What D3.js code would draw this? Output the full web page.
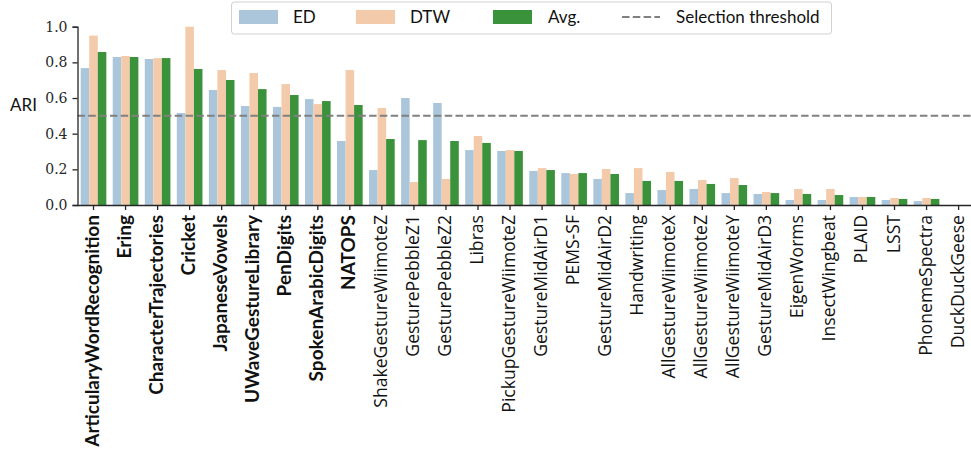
<!DOCTYPE html>
<html>
<head>
<meta charset="utf-8">
<script src="https://cdn.jsdelivr.net/npm/d3@7"></script>
<style>
  html, body { margin: 0; padding: 0; background: #fff; }
  svg { display: block; }
</style>
</head>
<body>
<svg id="chart" width="971" height="454"></svg>
<script>
const categories = ["ArticularyWordRecognition","Ering","CharacterTrajectories","Cricket","JapaneseVowels","UWaveGestureLibrary","PenDigits","SpokenArabicDigits","NATOPS","ShakeGestureWiimoteZ","GesturePebbleZ1","GesturePebbleZ2","Libras","PickupGestureWiimoteZ","GestureMidAirD1","PEMS-SF","GestureMidAirD2","Handwriting","AllGestureWiimoteX","AllGestureWiimoteZ","AllGestureWiimoteY","GestureMidAirD3","EigenWorms","InsectWingbeat","PLAID","LSST","PhonemeSpectra","DuckDuckGeese"];
const edValues  = [0.768,0.830,0.819,0.516,0.645,0.555,0.550,0.594,0.359,0.196,0.600,0.572,0.308,0.303,0.191,0.179,0.146,0.067,0.084,0.090,0.067,0.062,0.028,0.028,0.045,0.028,0.022,0.0];
const dtwValues = [0.950,0.836,0.824,1.000,0.757,0.740,0.678,0.566,0.757,0.544,0.129,0.146,0.387,0.308,0.207,0.174,0.202,0.207,0.185,0.140,0.151,0.073,0.090,0.090,0.045,0.039,0.039,0.0];
const avgValues = [0.858,0.830,0.824,0.763,0.701,0.650,0.617,0.583,0.561,0.370,0.364,0.359,0.348,0.303,0.196,0.179,0.174,0.135,0.135,0.118,0.112,0.067,0.062,0.056,0.045,0.034,0.034,0.0];
const seriesNames = ["ED","DTW","Avg."];
const threshold = 0.5;
const thresholdLabel = "Selection threshold";
const yTicks = [0.0,0.2,0.4,0.6,0.8,1.0];
const yLabel = "ARI";

const colors = ["#abc6da","#f3cbaa","#3a923a"];
const seriesValues = [edValues, dtwValues, avgValues];

const svg = d3.select("#chart");
const left = 77.5, bandW = 32.04;
const x = d3.scaleBand().domain(categories).range([left, left + bandW*categories.length]).padding(0);
const y = d3.scaleLinear().domain([0,1]).range([205, 26.7]);
const inner = d3.scaleBand().domain(seriesNames).range([0, x.bandwidth()*0.8]).padding(0);

// bars
const g = svg.append("g");
seriesNames.forEach((s, k) => {
  g.selectAll(".b"+k).data(categories).enter().append("rect")
    .attr("x", d => x(d) + x.bandwidth()*0.1 + inner(s))
    .attr("width", inner.bandwidth())
    .attr("y", (d,i) => y(seriesValues[k][i]))
    .attr("height", (d,i) => y(0) - y(seriesValues[k][i]))
    .attr("fill", colors[k]);
});

// threshold line
svg.append("line")
  .attr("x1", left).attr("x2", 975)
  .attr("y1", y(threshold)).attr("y2", y(threshold))
  .attr("stroke", "#808080").attr("stroke-width", 2)
  .attr("stroke-dasharray", "7.5,3.3");

// y axis
const yAxis = d3.axisLeft(y).tickValues(yTicks).tickFormat(d3.format(".1f")).tickSize(5).tickPadding(5);
const ya = svg.append("g").attr("transform", `translate(${left},0)`).call(yAxis);
ya.select(".domain").attr("stroke", "#262626").attr("stroke-width", 1.3);
ya.selectAll(".tick line").attr("stroke", "#262626").attr("stroke-width", 1.3);
ya.selectAll(".tick text").attr("font-family", "DejaVu Serif").attr("font-size", 14).attr("fill", "#262626");

// x axis
const xAxis = d3.axisBottom(x).tickSize(5).tickPadding(4);
const xa = svg.append("g").attr("transform", `translate(0,${y(0)})`).call(xAxis);
xa.select(".domain").attr("stroke", "#262626").attr("stroke-width", 1.3).attr("d", `M${left},0.5H975`);
xa.selectAll(".tick line").attr("stroke", "#262626").attr("stroke-width", 1.3);
xa.selectAll(".tick text")
  .each(function(d, i) {
    const bold = avgValues[i] >= threshold;
    d3.select(this)
      .attr("font-family", bold ? "Lato" : "Open Sans")
      .attr("font-size", bold ? 19 : 17.6)
      .attr("font-weight", bold ? "bold" : "normal");
  })
  .attr("fill", "#111")
  .attr("text-anchor", "end")
  .attr("dy", null)
  .attr("transform", "rotate(-90)")
  .attr("x", -10).attr("y", 5);

// y label
svg.append("text").attr("x", 10).attr("y", 111).text(yLabel)
  .attr("font-family", "Lato").attr("font-size", 17).attr("fill", "#111");

// legend
const lg = svg.append("g");
lg.append("rect").attr("x", 231.5).attr("y", 2).attr("width", 600).attr("height", 32)
  .attr("rx", 3).attr("fill", "rgba(255,255,255,0.85)").attr("stroke", "#d0d0d0").attr("stroke-width", 1);
const patchX = [239, 356, 493];
const textX = [293, 410, 548];
seriesNames.forEach((s, k) => {
  lg.append("rect").attr("x", patchX[k]).attr("y", 10).attr("width", 39).attr("height", 14).attr("fill", colors[k]);
  lg.append("text").attr("x", textX[k]).attr("y", 22.5).text(s)
    .attr("font-family", "Lato").attr("font-size", 17).attr("fill", "#111");
});
lg.append("line").attr("x1", 622).attr("x2", 660).attr("y1", 17).attr("y2", 17)
  .attr("stroke", "#808080").attr("stroke-width", 2).attr("stroke-dasharray", "7.5,3.3");
lg.append("text").attr("x", 676).attr("y", 22.5).text(thresholdLabel)
  .attr("font-family", "Lato").attr("font-size", 17).attr("fill", "#111");
</script>
</body>
</html>
